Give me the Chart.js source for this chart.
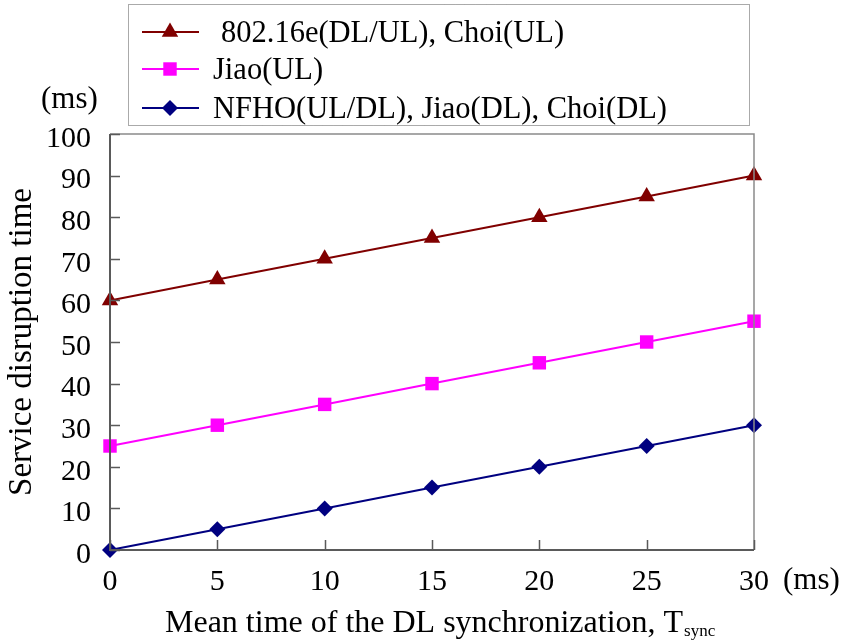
<!DOCTYPE html>
<html>
<head>
<meta charset="utf-8">
<script src="https://cdn.jsdelivr.net/npm/chart.js@4.4.1/dist/chart.umd.min.js"></script>
<style>
  html, body { margin: 0; padding: 0; background: #fff; }
  #wrap { width: 848px; height: 643px; position: relative; }
</style>
</head>
<body>
<div id="wrap"><canvas id="grafico"></canvas></div>
<script>
// datos
const TSYNC = [0, 5, 10, 15, 20, 25, 30];
const SERIE_80216E = [60, 65, 70, 75, 80, 85, 90];
const SERIE_JIAO_UL = [25, 30, 35, 40, 45, 50, 55];
const SERIE_NFHO = [0, 5, 10, 15, 20, 25, 30];
const NOMBRES = ['802.16e(DL/UL), Choi(UL)', 'Jiao(UL)', 'NFHO(UL/DL), Jiao(DL), Choi(DL)'];

const FUENTE = '"Liberation Serif", "Times New Roman", serif';
const EJE = '#5a5a5a';

const puntos = ys => TSYNC.map((x, i) => ({ x, y: ys[i] }));

/* ------------------------------------------------------------
   marco, ticks hacia adentro, leyenda y textos extra
------------------------------------------------------------ */
const extras = {
    id: 'extras',
    afterDraw(chart) {
        const { ctx, chartArea: a, scales: { x, y } } = chart;
        ctx.save();

        // marco
        ctx.strokeStyle = '#8a8a8a';
        ctx.lineWidth = 1.5;
        ctx.beginPath();
        ctx.moveTo(a.left, a.top); ctx.lineTo(a.right, a.top); ctx.lineTo(a.right, a.bottom);
        ctx.stroke();
        ctx.strokeStyle = EJE;
        ctx.lineWidth = 2;
        ctx.beginPath();
        ctx.moveTo(a.left, a.top); ctx.lineTo(a.left, a.bottom); ctx.lineTo(a.right, a.bottom);
        ctx.stroke();

        // ticks
        ctx.lineWidth = 1.5;
        ctx.beginPath();
        y.ticks.forEach(t => {
            const py = Math.round(y.getPixelForValue(t.value)) + 0.5;
            ctx.moveTo(a.left, py); ctx.lineTo(a.left + 10, py);
        });
        x.ticks.forEach(t => {
            const px = Math.round(x.getPixelForValue(t.value)) + 0.5;
            ctx.moveTo(px, a.bottom); ctx.lineTo(px, a.bottom - 10);
        });
        ctx.stroke();

        // leyenda
        ctx.setLineDash([1, 1]);
        ctx.strokeStyle = '#555';
        ctx.lineWidth = 1;
        ctx.strokeRect(128.5, 4.5, 621, 121);
        ctx.setLineDash([]);
        const filas = [32, 69, 108];
        chart.data.datasets.forEach((ds, i) => {
            const fy = filas[i];
            ctx.strokeStyle = ds.borderColor;
            ctx.lineWidth = 2;
            ctx.beginPath(); ctx.moveTo(142, fy); ctx.lineTo(199, fy); ctx.stroke();
            ctx.fillStyle = ds.pointBackgroundColor;
            Chart.helpers.drawPoint(ctx, {
                pointStyle: ds.pointStyle, radius: ds.pointRadius, rotation: 0, borderWidth: 0
            }, 170, fy);
            ctx.fillStyle = '#000';
            ctx.font = '30.5px ' + FUENTE;
            ctx.textBaseline = 'middle';
            ctx.textAlign = 'left';
            ctx.fillText(ds.label, i === 0 ? 221 : 213, fy + 2);
        });

        // unidades
        ctx.fillStyle = '#000';
        ctx.font = '31px ' + FUENTE;
        ctx.textBaseline = 'middle';
        ctx.textAlign = 'left';
        ctx.fillText('(ms)', 41, 100);
        ctx.fillText('(ms)', 783, 581);

        // titulo eje x con subindice
        const base = 'Mean time of the DL synchronization, T';
        ctx.textBaseline = 'alphabetic';
        ctx.font = '32px ' + FUENTE;
        ctx.fillText(base, 165, 632);
        const w1 = ctx.measureText(base).width;
        ctx.font = '17px ' + FUENTE;
        ctx.fillText('sync', 165 + w1 + 1, 636);

        ctx.restore();
    }
};

const serie = (label, data, color, estilo, radio) => ({
    label, data: puntos(data),
    borderColor: color, borderWidth: 2,
    pointStyle: estilo, pointRadius: radio, pointHoverRadius: radio,
    pointBackgroundColor: color, pointBorderColor: color, pointBorderWidth: 0,
    tension: 0, fill: false, clip: false
});

new Chart(document.getElementById('grafico'), {
    type: 'line',
    data: {
        datasets: [
            serie(NOMBRES[0], SERIE_80216E, '#800000', 'triangle', 9.5),
            serie(NOMBRES[1], SERIE_JIAO_UL, '#ff00ff', 'rect', 9.5),
            serie(NOMBRES[2], SERIE_NFHO, '#000080', 'rectRot', 8)
        ]
    },
    options: {
        responsive: true, maintainAspectRatio: false, animation: false,
        layout: { padding: { top: 134, right: 94, left: 0, bottom: 0 } },
        plugins: { legend: { display: false }, tooltip: { enabled: false } },
        scales: {
            x: {
                type: 'linear', min: 0, max: 30,
                grid: { display: false }, border: { display: false },
                ticks: { stepSize: 5, color: '#000', padding: 6, font: { family: FUENTE, size: 30 } },
                afterFit: s => { s.height = 93; }
            },
            y: {
                min: 0, max: 100,
                grid: { display: false }, border: { display: false },
                ticks: { stepSize: 10, color: '#000', padding: 11, labelOffset: 5, font: { family: FUENTE, size: 30 } },
                title: { display: true, text: 'Service disruption time', color: '#000', padding: { top: 3, bottom: 0 }, font: { family: FUENTE, size: 33 } },
                afterFit: s => { s.width = 110; }
            }
        }
    },
    plugins: [extras]
});
</script>
</body>
</html>
